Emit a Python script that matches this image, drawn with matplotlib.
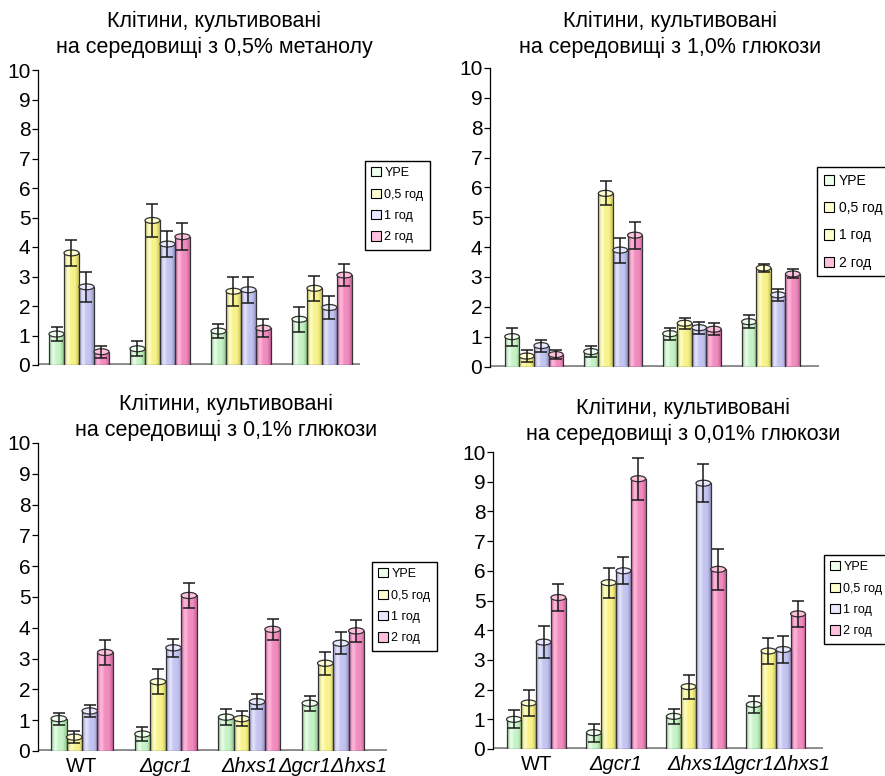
## bar charts, 4 media ##

import numpy as np
import matplotlib
matplotlib.use('Agg')
import matplotlib.pyplot as plt
from matplotlib.patches import Ellipse, Patch, Rectangle
from matplotlib.colors import LinearSegmentedColormap

plt.rcParams['font.family'] = ['Liberation Sans', 'DejaVu Sans']

strains = ['WT', 'Δgcr1', 'Δhxs1', 'Δgcr1Δhxs1']
series = ['YPE', '0,5 год', '1 год', '2 год']

titles = ['Клітини, культивовані\nна середовищі з 0,5% метанолу',
          'Клітини, культивовані\nна середовищі з 1,0% глюкози',
          'Клітини, культивовані\nна середовищі з 0,1% глюкози',
          'Клітини, культивовані\nна середовищі з 0,01% глюкози']

# rows = series (YPE, 0.5h, 1h, 2h), columns = strains
meth05_vals = [[1.05, 0.55, 1.15, 1.55],
               [3.8, 4.9, 2.5, 2.6],
               [2.65, 4.1, 2.55, 1.95],
               [0.45, 4.35, 1.25, 3.05]]
meth05_err = [[0.25, 0.25, 0.25, 0.42],
              [0.45, 0.55, 0.5, 0.42],
              [0.5, 0.45, 0.45, 0.38],
              [0.2, 0.45, 0.3, 0.38]]

glc10_vals = [[1.0, 0.5, 1.1, 1.5],
              [0.35, 5.8, 1.45, 3.3],
              [0.7, 3.9, 1.3, 2.4],
              [0.4, 4.4, 1.25, 3.1]]
glc10_err = [[0.3, 0.18, 0.2, 0.22],
             [0.2, 0.4, 0.18, 0.15],
             [0.2, 0.42, 0.2, 0.2],
             [0.15, 0.45, 0.2, 0.15]]

glc01_vals = [[1.05, 0.55, 1.1, 1.55],
              [0.45, 2.25, 1.05, 2.85],
              [1.3, 3.35, 1.6, 3.5],
              [3.2, 5.05, 3.95, 3.9]]
glc01_err = [[0.2, 0.22, 0.25, 0.25],
             [0.2, 0.4, 0.25, 0.38],
             [0.2, 0.3, 0.25, 0.35],
             [0.4, 0.4, 0.35, 0.35]]

glc001_vals = [[1.0, 0.55, 1.1, 1.5],
               [1.55, 5.6, 2.1, 3.3],
               [3.6, 6.0, 8.95, 3.35],
               [5.1, 9.1, 6.05, 4.55]]
glc001_err = [[0.3, 0.3, 0.25, 0.3],
              [0.45, 0.5, 0.4, 0.45],
              [0.55, 0.45, 0.65, 0.45],
              [0.45, 0.7, 0.7, 0.45]]

# base, light, dark tones for the cylinder look
tones = [('#C6F2C6', '#EEFFEE', '#8CC68C'),
         ('#F7F28A', '#FFFFD0', '#C9C25A'),
         ('#C4C4F0', '#E8E8FF', '#9393C8'),
         ('#F08CBE', '#FFC0DE', '#C8609A')]

W, H = 885, 776

def px_axes(x_axis, x_end, y0, y10):
    return [x_axis / W, 1 - y0 / H, (x_end - x_axis) / W, (y0 - y10) / H]

def draw_panel(ax, vals, err, xlim, ell_h, xlabels=False):
    bw = 0.185
    x = np.arange(len(strains))
    grad = np.linspace(0, 1, 64).reshape(1, -1)
    for i in range(4):
        base, light, dark = tones[i]
        cmap = LinearSegmentedColormap.from_list('c%d' % i, [dark, light, base, base, dark])
        xs = x + (i - 1.5) * bw
        for xc, h in zip(xs, vals[i]):
            rect = Rectangle((xc - bw / 2, 0), bw, h, facecolor=base, edgecolor='none', zorder=2)
            ax.add_patch(rect)
            im = ax.imshow(grad, extent=(xc - bw / 2, xc + bw / 2, 0, h), aspect='auto',
                           cmap=cmap, interpolation='bicubic', zorder=2.1)
            im.set_clip_path(rect)
            ax.add_patch(Rectangle((xc - bw / 2, 0), bw, h, fill=False, edgecolor='#333333',
                                   lw=0.9, zorder=2.5))
            ax.add_patch(Ellipse((xc, h), bw, ell_h, facecolor=light, edgecolor='#333333',
                                 lw=0.9, zorder=3))
        ax.errorbar(xs, vals[i], yerr=err[i], fmt='none', ecolor='#1a1a1a', elinewidth=1.1,
                    capsize=4.5, capthick=1.1, zorder=4)
    ax.plot(xlim, [0, 0], color='#8c8c8c', lw=3.5, zorder=1.5, solid_capstyle='butt')
    ax.set_xlim(xlim)
    ax.set_ylim(0, 10)
    ax.set_yticks(range(11))
    for s in ['top', 'right', 'bottom']:
        ax.spines[s].set_visible(False)
    ax.spines['left'].set_linewidth(0.9)
    ax.tick_params(axis='y', direction='out', length=4, width=0.9, labelsize=15, pad=1.5)
    if xlabels:
        ax.set_xticks(x)
        ax.set_xticklabels(strains, fontsize=14.5)
        for lab in ax.get_xticklabels()[1:]:
            lab.set_style('italic')
        ax.tick_params(axis='x', length=0, pad=4)
    else:
        ax.set_xticks([])

fig = plt.figure(figsize=(8.85, 7.76), dpi=100)

ax1 = fig.add_axes(px_axes(38, 360, 365, 70))
draw_panel(ax1, meth05_vals, meth05_err, (-0.506, 3.47), 0.2)
ax2 = fig.add_axes(px_axes(490, 819, 366.5, 68))
draw_panel(ax2, glc10_vals, glc10_err, (-0.557, 3.61), 0.2)
ax3 = fig.add_axes(px_axes(38, 387, 751, 443))
draw_panel(ax3, glc01_vals, glc01_err, (-0.526, 3.645), 0.2, xlabels=True)
ax4 = fig.add_axes(px_axes(493, 823, 749, 452))
draw_panel(ax4, glc001_vals, glc001_err, (-0.54, 3.59), 0.2, xlabels=True)

title_pos = [(214, 34), (670, 34), (226, 417), (683, 421)]
for (tx, ty), t in zip(title_pos, titles):
    fig.text(tx / W, 1 - ty / H, t, ha='center', va='center', fontsize=15.5, linespacing=1.3)

# legend corner, font size, label spacing
leg_pos = [(365, 161, 9, 0.75), (817, 167, 10, 0.95), (372, 562, 9, 0.75), (824, 555, 9, 0.75)]
for k, (lx, ly, fs, ls) in enumerate(leg_pos):
    cols = [t[1] for t in tones]
    if k == 1:
        cols[2] = '#FFFFCC'
    handles = [Patch(facecolor=c, edgecolor='black', lw=0.8) for c in cols]
    fig.legend(handles, series, loc='upper left', bbox_to_anchor=(lx / W, 1 - ly / H),
               fontsize=fs, frameon=True, fancybox=False, edgecolor='black',
               framealpha=1, handlelength=0.75, handleheight=0.75, handletextpad=0.3,
               labelspacing=ls, borderpad=0.5, borderaxespad=0)

plt.savefig('out.png', dpi=100)
